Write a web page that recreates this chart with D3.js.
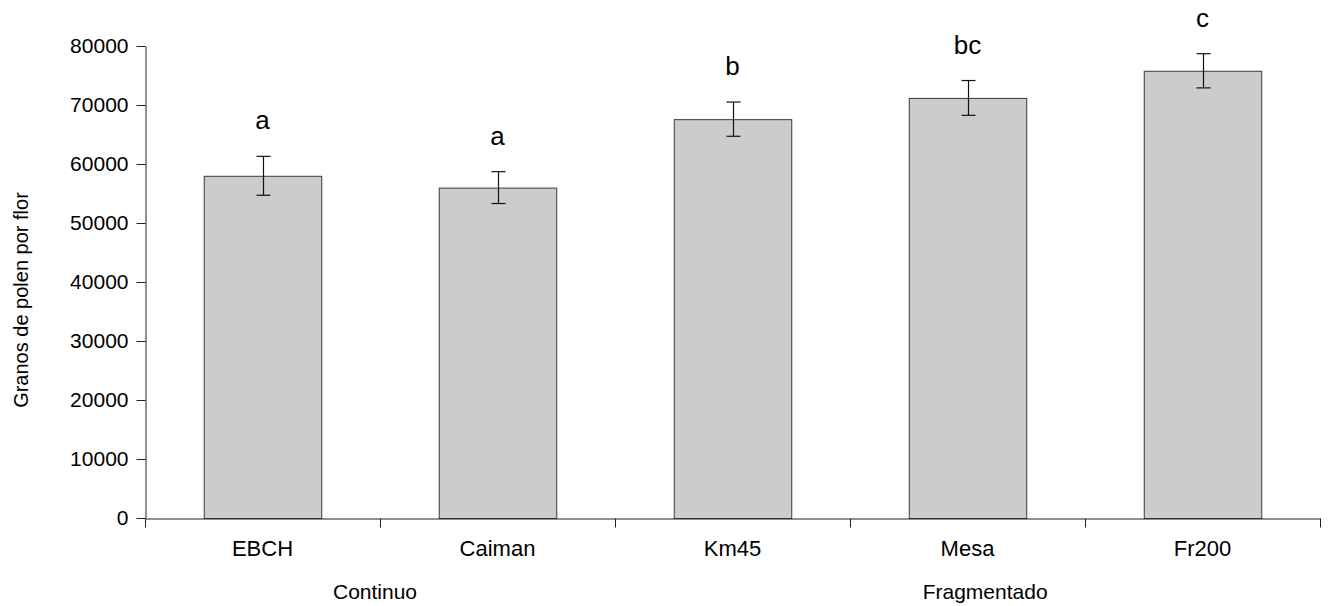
<!DOCTYPE html>
<html>
<head>
<meta charset="utf-8">
<script src="https://cdn.jsdelivr.net/npm/d3@7"></script>
<style>
  body { margin: 0; background: #fff; }
  svg text { font-family: "Liberation Sans", Arial, sans-serif; fill: #000; }
</style>
</head>
<body>
<div id="content"></div>
<script>
// chart data
var sites = ['EBCH', 'Caiman', 'Km45', 'Mesa', 'Fr200'];
var means = [58000, 56000, 67600, 71200, 75800];
var errors = [3300, 2700, 2900, 2950, 2900];
var letters = ['a', 'a', 'b', 'bc', 'c'];
var yTicks = [0, 10000, 20000, 30000, 40000, 50000, 60000, 70000, 80000];
var groups = ['Continuo', 'Fragmentado'];
var groupSites = [['EBCH', 'Caiman'], ['Km45', 'Mesa', 'Fr200']];

var chart = { width: 1332, height: 606, left: 145, right: 1320, top: 46, bottom: 518 };

var svg = d3.select('#content').append('svg')
  .attr('width', chart.width)
  .attr('height', chart.height);

var x = d3.scaleBand()
  .domain(sites)
  .range([chart.left, chart.right])
  .paddingInner(0.5)
  .paddingOuter(0.25);

// for tick marks between categories
var xEdge = d3.scaleLinear()
  .domain([0, sites.length])
  .range([chart.left, chart.right]);

var y = d3.scaleLinear()
  .domain([0, 80000])
  .range([chart.bottom, chart.top]);

// bars
svg.append('g').selectAll('rect')
  .data(means)
  .enter().append('rect')
  .attr('x', (d, i) => x(sites[i]) + 0.5)
  .attr('y', (d) => y(d) + 0.5)
  .attr('width', x.bandwidth())
  .attr('height', (d) => y(0) - y(d))
  .attr('fill', '#cccccc')
  .attr('stroke', '#3a3a3a')
  .attr('stroke-width', 1);

// error bars
var eb = svg.append('g').attr('stroke', '#111').attr('stroke-width', 1.2);
means.forEach(function(m, i) {
  var cx = Math.round(x(sites[i]) + x.bandwidth() / 2) + 0.5;
  var hi = y(m + errors[i]), lo = y(m - errors[i]);
  eb.append('line').attr('x1', cx).attr('x2', cx).attr('y1', hi).attr('y2', lo);
  eb.append('line').attr('x1', cx - 7).attr('x2', cx + 7).attr('y1', hi).attr('y2', hi);
  eb.append('line').attr('x1', cx - 7).attr('x2', cx + 7).attr('y1', lo).attr('y2', lo);
});

// significance letters
svg.append('g').selectAll('text')
  .data(letters)
  .enter().append('text')
  .attr('x', (d, i) => x(sites[i]) + x.bandwidth() / 2)
  .attr('y', (d, i) => y(means[i] + errors[i]) - 27)
  .attr('text-anchor', 'middle')
  .style('font-size', '26px')
  .text((d) => d);

// y axis
var yAxis = svg.append('g')
  .attr('transform', 'translate(' + (chart.left + 0.5) + ',0)')
  .call(d3.axisLeft(y).tickValues(yTicks).tickFormat(d3.format('d'))
    .tickSize(9).tickSizeOuter(0).tickPadding(8));
yAxis.selectAll('text').style('font-size', '21px');
yAxis.selectAll('line, path').attr('stroke', '#222');

// x axis, ticks on category edges
var xAxis = svg.append('g')
  .attr('transform', 'translate(0,' + (chart.bottom + 0.5) + ')')
  .call(d3.axisBottom(xEdge).ticks(sites.length).tickSize(9).tickSizeOuter(0).tickFormat(''));
xAxis.selectAll('line, path').attr('stroke', '#222');

// category labels
svg.append('g').selectAll('text')
  .data(sites)
  .enter().append('text')
  .attr('x', (d) => x(d) + x.bandwidth() / 2)
  .attr('y', 556)
  .attr('text-anchor', 'middle')
  .style('font-size', '22px')
  .text((d) => d);

// group labels
svg.append('g').selectAll('text')
  .data(groups)
  .enter().append('text')
  .attr('x', function(d, i) {
    var s = groupSites[i];
    if (i === 0) return (x(s[0]) + x(s[s.length - 1]) + x.bandwidth()) / 2 - 5;
    return x(s[1]) + x.bandwidth() * 0.65;
  })
  .attr('y', 599)
  .attr('text-anchor', 'middle')
  .style('font-size', '21px')
  .text((d) => d);

// y title
svg.append('text')
  .attr('transform', 'translate(28,' + ((chart.top + chart.bottom) / 2 + 18) + ') rotate(-90)')
  .attr('text-anchor', 'middle')
  .style('font-size', '20px')
  .text('Granos de polen por flor');
</script>
</body>
</html>
